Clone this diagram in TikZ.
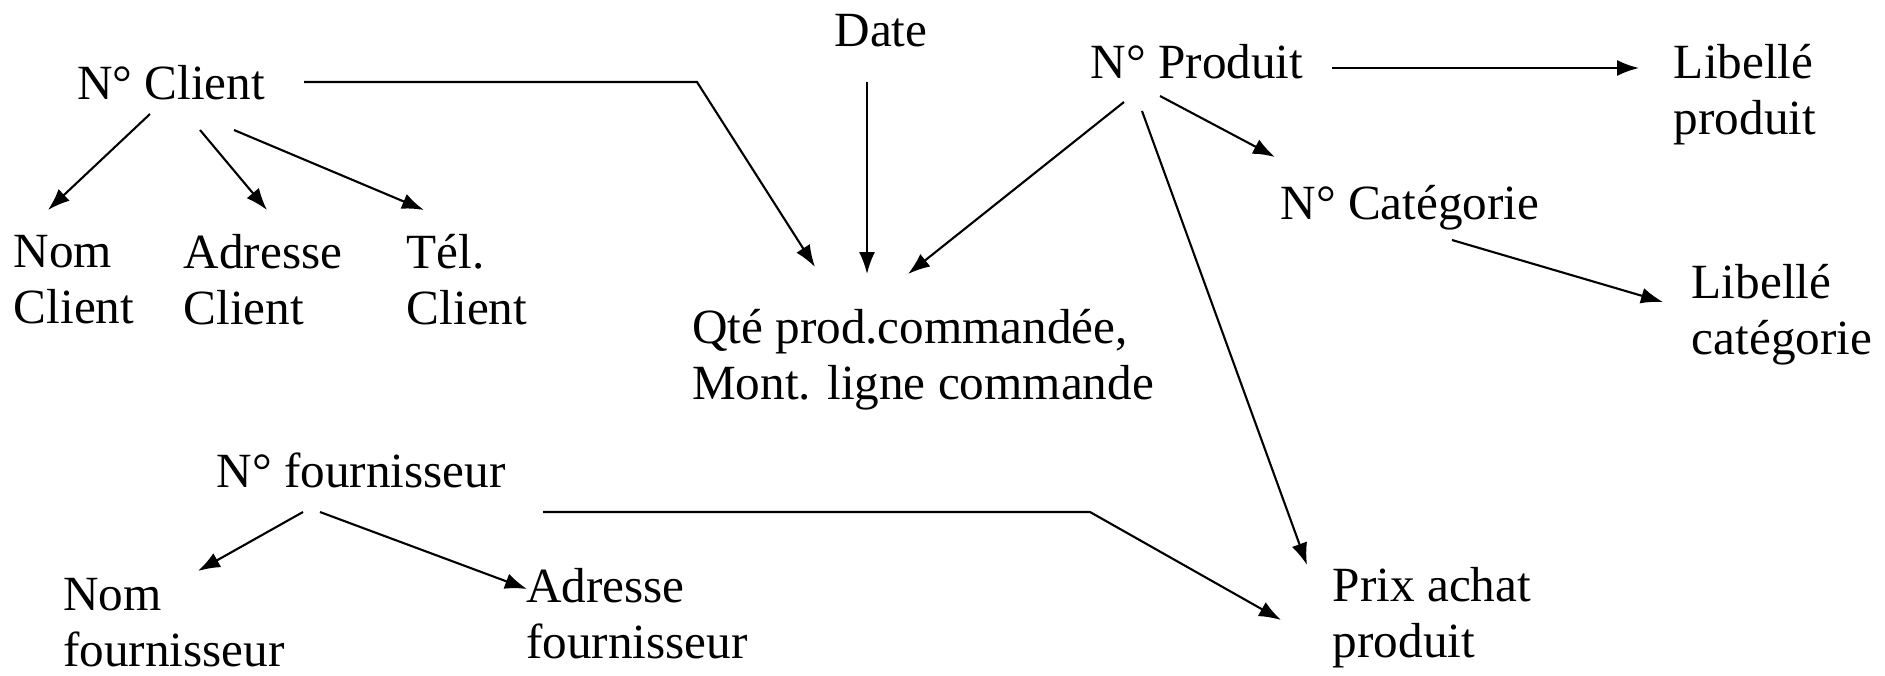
\documentclass[tikz,border=0pt]{standalone}
\usepackage{fontspec}
\setmainfont{Liberation Serif}
\usetikzlibrary{arrows.meta}

\begin{document}
\begin{tikzpicture}[
  attr/.style={inner sep=0pt, font=\fontsize{14}{16}\selectfont},
  pair/.style={attr, align=left},
  dep/.style={-{Latex[length=2.2mm,width=1.6mm]}, line width=0.6pt}
]
\useasboundingbox (0,0) rectangle (18.85,-6.75);

% Client and its attributes
\node[attr, anchor=base] (client) at (1.71,-0.99) {N° Client};
\node[pair] (nomc) at (0.74,-2.80) {Nom\\Client};
\node[pair] (adrc) at (2.63,-2.80) {Adresse\\Client};
\node[pair] (telc) at (4.67,-2.80) {Tél.\\Client};

% Order line
\node[attr, anchor=base] (date) at (8.81,-0.46) {Date};
\node[pair] (qte) at (9.23,-3.60) {Qté prod.commandée,\\Mont. ligne commande};

% Product side
\node[attr, anchor=base] (produit) at (11.97,-0.78) {N° Produit};
\node[pair] (libp) at (17.45,-0.95) {Libellé\\produit};
\node[attr, anchor=base] (categ) at (14.10,-2.19) {N° Catégorie};
\node[pair] (libc) at (17.82,-3.15) {Libellé\\catégorie};
\node[pair] (prix) at (14.32,-6.18) {Prix achat\\produit};

% Supplier
\node[attr, anchor=base] (fourn) at (3.61,-4.87) {N° fournisseur};
\node[pair] (nomf) at (1.74,-6.23) {Nom\\fournisseur};
\node[pair] (adrf) at (6.37,-6.14) {Adresse\\fournisseur};

% bends of the two long connectors
\coordinate (kc) at (6.97,-0.82);
\coordinate (kf) at (10.90,-5.12);

% Arrows from N° Client
\draw[dep] ([shift={(-0.21,-0.15)}]client.base) -- ([shift={(-0.26,0.70)}]nomc.center);
\draw[dep] ([shift={(0.29,-0.31)}]client.base) -- ([shift={(0.04,0.70)}]adrc.center);
\draw[dep] ([shift={(0.63,-0.31)}]client.base) -- ([shift={(-0.43,0.70)}]telc.center);
\draw[dep] ([shift={(1.33,0.17)}]client.base) -- (kc) -- ([shift={(-1.08,0.93)}]qte.center);

% Arrows into the order line
\draw[dep] ([shift={(-0.14,-0.36)}]date.base) -- ([shift={(-0.56,0.86)}]qte.center);
\draw[dep] ([shift={(-0.73,-0.24)}]produit.base) -- ([shift={(-0.15,0.86)}]qte.center);

% Arrows from N° Produit
\draw[dep] ([shift={(1.35,0.10)}]produit.base) -- ([shift={(-1.06,0.27)}]libp.center);
\draw[dep] ([shift={(-0.37,-0.18)}]produit.base) -- ([shift={(-1.35,0.62)}]categ.base);
\draw[dep] ([shift={(-0.55,-0.33)}]produit.base) -- ([shift={(-1.25,0.53)}]prix.center);
\draw[dep] ([shift={(0.42,-0.21)}]categ.base) -- ([shift={(-1.19,0.13)}]libc.center);

% Arrows from N° fournisseur
\draw[dep] ([shift={(-0.58,-0.25)}]fourn.base) -- ([shift={(0.24,0.52)}]nomf.center);
\draw[dep] ([shift={(-0.41,-0.25)}]fourn.base) -- ([shift={(-1.10,0.25)}]adrf.center);
\draw[dep] ([shift={(1.82,-0.25)}]fourn.base) -- (kf) -- ([shift={(-1.51,-0.02)}]prix.center);

\end{tikzpicture}
\end{document}
